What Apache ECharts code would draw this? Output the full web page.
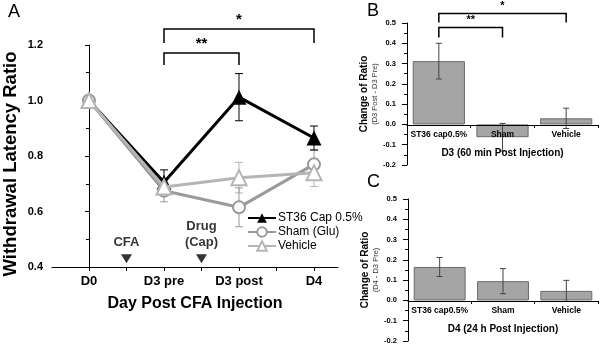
<!DOCTYPE html>
<html>
<head>
<meta charset="utf-8">
<script src="https://cdn.jsdelivr.net/npm/echarts@6/dist/echarts.min.js"></script>
<style>
  html, body { margin: 0; padding: 0; background: #fff; }
  #chart { width: 600px; height: 345px; }
</style>
</head>
<body>
<div id="chart"></div>
<script>
// panel A: withdrawal latency ratio
const dayLabels = ['D0', 'D3 pre', 'D3 post', 'D4']
const capMean = [1.0, 0.705, 1.012, 0.865]
const capErr = [0, 0.045, 0.085, 0.043]
const shamMean = [1.0, 0.675, 0.615, 0.77]
const shamErr = [0, 0.04, 0.07, 0.05]
const vehMean = [1.0, 0.688, 0.722, 0.74]
const vehErr = [0, 0.03, 0.055, 0.05]
const eventPos = [0.5, 1.5]
const eventLabels = ['CFA', 'Drug\n(Cap)']

// panels B and C: change of ratio
const barCats = ['ST36 cap0.5%', 'Sham', 'Vehicle']
const d3Change = [0.312, -0.063, 0.03]
const d3Err = [0.088, 0.068, 0.05]
const d4Change = [0.165, 0.095, 0.047]
const d4Err = [0.047, 0.062, 0.052]

const FONT = '"Liberation Sans", Arial, sans-serif'

function errRender(color, half) {
  return function (params, api) {
    const x = api.value(0)
    const lo = api.value(1)
    const hi = api.value(2)
    if (hi === lo) return null
    const p1 = api.coord([x, hi])
    const p2 = api.coord([x, lo])
    const s = { stroke: color, lineWidth: 1 }
    return {
      type: 'group',
      children: [
        { type: 'line', shape: { x1: p1[0], y1: p1[1], x2: p2[0], y2: p2[1] }, style: s },
        { type: 'line', shape: { x1: p1[0] - half, y1: p1[1], x2: p1[0] + half, y2: p1[1] }, style: s },
        { type: 'line', shape: { x1: p2[0] - half, y1: p2[1], x2: p2[0] + half, y2: p2[1] }, style: s }
      ]
    }
  }
}

function errData(xs, mean, err) {
  return mean.map((m, i) => [xs[i], m - err[i], m + err[i]])
}

function bracketRender(params, api) {
  const x1 = api.value(0), x2 = api.value(1), yTop = api.value(2), yEnd = api.value(3)
  const a = api.coord([x1, yEnd]), b = api.coord([x1, yTop])
  const c = api.coord([x2, yTop]), d = api.coord([x2, yEnd])
  const stars = params.context.stars[params.dataIndex]
  const fs = params.context.fs
  return {
    type: 'group',
    children: [
      { type: 'polyline', shape: { points: [a, b, c, d] }, style: { stroke: '#000', lineWidth: 1.5, fill: null } },
      { type: 'text', x: (b[0] + c[0]) / 2, y: b[1] - 2,
        style: { text: stars, fill: '#000', font: 'bold ' + fs + 'px ' + FONT, align: 'center', verticalAlign: 'bottom' } }
    ]
  }
}

const idx = dayLabels.map((d, i) => i)
const chart = echarts.init(document.getElementById('chart'))

const smallAxis = (gi, title, sub) => ({
  gridIndex: gi,
  type: 'value',
  min: -0.2,
  max: 0.5,
  interval: 0.1,
  name: '{a|' + title + '}\n{b|' + sub + '}',
  nameLocation: 'middle',
  nameGap: 27,
  nameTextStyle: {
    rich: {
      a: { fontFamily: FONT, fontWeight: 'bold', fontSize: 10, color: '#000', lineHeight: 11 },
      b: { fontFamily: FONT, fontSize: 7.5, color: '#333', lineHeight: 10 }
    }
  },
  axisLine: { show: true, lineStyle: { color: '#000', width: 1 } },
  axisTick: { show: true, length: 5, lineStyle: { color: '#000' } },
  minorTick: { show: true, splitNumber: 2, length: 3, lineStyle: { color: '#000' } },
  splitLine: { show: false },
  axisLabel: { fontFamily: FONT, fontWeight: 'bold', fontSize: 7.5, color: '#000', margin: 11,
    formatter: v => v.toFixed(1) }
})

// category axis sits on the zero line (two tenths above the grid bottom)
const catAxis = (gi, title) => ({
  gridIndex: gi,
  type: 'category',
  data: barCats,
  z: 10,
  offset: -40,
  name: title,
  nameLocation: 'middle',
  nameGap: 23,
  nameTextStyle: { fontFamily: FONT, fontWeight: 'bold', fontSize: 10, color: '#000' },
  axisLine: { onZero: false, lineStyle: { color: '#000', width: 1 } },
  axisTick: { show: true, length: 3, lineStyle: { color: '#000' } },
  axisLabel: { fontFamily: FONT, fontWeight: 'bold', fontSize: 8.5, color: '#000', margin: 5, interval: 0 }
})

const barSeries = (gi, vals) => ({
  type: 'bar',
  xAxisIndex: gi,
  yAxisIndex: gi,
  data: vals,
  barCategoryGap: '18%',
  itemStyle: { color: '#a5a5a5', borderColor: '#6a6a6a', borderWidth: 1 },
  z: 2
})

const barErr = (gi, vals, errs) => ({
  type: 'custom',
  xAxisIndex: gi,
  yAxisIndex: gi,
  renderItem: errRender('#444', 3),
  data: errData([0, 1, 2], vals, errs),
  z: 5
})

const option = {
  backgroundColor: '#fff',
  animation: false,
  textStyle: { fontFamily: FONT },
  grid: [
    { left: 52, top: 45, width: 286, height: 222 },
    { left: 407, top: 23, width: 191, height: 142 },
    { left: 408, top: 199, width: 190, height: 142 }
  ],
  legend: {
    left: 242,
    top: 207,
    orient: 'vertical',
    itemWidth: 28,
    itemHeight: 12,
    itemGap: 2,
    data: ['ST36 Cap 0.5%', 'Sham (Glu)', 'Vehicle'],
    textStyle: { fontFamily: FONT, fontSize: 12, color: '#000', padding: [0, 0, 0, -3] }
  },
  xAxis: [
    {
      gridIndex: 0,
      type: 'value',
      min: -0.493,
      max: 3.32,
      name: 'Day Post CFA Injection',
      nameLocation: 'middle',
      nameGap: 29,
      nameTextStyle: { fontFamily: FONT, fontWeight: 'bold', fontSize: 16, color: '#000' },
      axisLine: { lineStyle: { color: '#000', width: 1 } },
      axisTick: { show: true, length: 4, customValues: [0, 0.5, 1, 1.5, 2, 2.5, 3], lineStyle: { color: '#000' } },
      splitLine: { show: false },
      axisLabel: {
        customValues: idx,
        fontFamily: FONT, fontWeight: 'bold', fontSize: 13, color: '#000', margin: 8,
        formatter: v => dayLabels[Math.round(v)]
      }
    },
    catAxis(1, 'D3 (60 min Post Injection)'),
    catAxis(2, 'D4 (24 h Post Injection)')
  ],
  yAxis: [
    {
      gridIndex: 0,
      type: 'value',
      min: 0.4,
      max: 1.2,
      interval: 0.2,
      axisLine: { show: true, lineStyle: { color: '#000', width: 1 } },
      axisTick: { show: true, length: 4, lineStyle: { color: '#000' } },
      minorTick: { show: true, splitNumber: 2, length: 3, lineStyle: { color: '#000' } },
      splitLine: { show: false },
      axisLabel: { fontFamily: FONT, fontWeight: 'bold', fontSize: 11, color: '#000', margin: 9,
        formatter: v => v.toFixed(1) }
    },
    smallAxis(1, 'Change of Ratio', '(D3 Post - D3 Pre)'),
    smallAxis(2, 'Change of Ratio', '(D4 - D3 Pre)')
  ],
  series: [
    // error bars panel A
    { type: 'custom', renderItem: errRender('#b5b5b5', 4), data: errData(idx, vehMean, vehErr), z: 1 },
    { type: 'custom', renderItem: errRender('#999', 4), data: errData(idx, shamMean, shamErr), z: 1 },
    { type: 'custom', renderItem: errRender('#000', 4), data: errData(idx, capMean, capErr), z: 1 },
    {
      name: 'ST36 Cap 0.5%', type: 'line',
      data: capMean.map((v, i) => [i, v]),
      symbol: 'triangle', symbolSize: 15,
      color: '#000',
      lineStyle: { width: 3, color: '#000' },
      itemStyle: { color: '#000' },
      z: 3
    },
    {
      name: 'Sham (Glu)', type: 'line',
      data: shamMean.map((v, i) => [i, v]),
      symbol: 'emptyCircle', symbolSize: 12,
      color: '#9a9a9a',
      lineStyle: { width: 3, color: '#9a9a9a' },
      itemStyle: { color: '#9a9a9a', borderWidth: 1.5 },
      z: 4
    },
    {
      name: 'Vehicle', type: 'line',
      data: vehMean.map((v, i) => [i, v]),
      symbol: 'emptyTriangle', symbolSize: 15,
      color: '#b5b5b5',
      lineStyle: { width: 3, color: '#b5b5b5' },
      itemStyle: { color: '#b5b5b5', borderWidth: 1.5 },
      z: 5
    },
    // event arrows
    {
      type: 'scatter',
      data: eventPos.map((x, i) => ({ value: [x, 0.43], label: { formatter: eventLabels[i] } })),
      symbol: 'triangle', symbolRotate: 180, symbolSize: [11, 9],
      itemStyle: { color: '#000' },
      label: { show: true, position: 'top', distance: 4, fontFamily: FONT, fontWeight: 'bold', fontSize: 13, color: '#000', lineHeight: 16 },
      z: 6
    },
    // significance brackets A
    {
      type: 'custom',
      renderItem: (p, api) => { p.context.stars = ['**', '*']; p.context.fs = 15; return bracketRender(p, api) },
      data: [[1, 2, 1.171, 1.128], [1, 3, 1.258, 1.207]],
      z: 6
    },
    // panel B
    barSeries(1, d3Change),
    barErr(1, d3Change, d3Err),
    {
      type: 'custom', xAxisIndex: 1, yAxisIndex: 1,
      renderItem: (p, api) => { p.context.stars = ['**', '*']; p.context.fs = 11; return bracketRender(p, api) },
      data: [[0, 1, 0.478, 0.429], [0, 2, 0.547, 0.502]],
      z: 6
    },
    // panel C
    barSeries(2, d4Change),
    barErr(2, d4Change, d4Err)
  ],
  graphic: [
    { type: 'text', left: 8, top: 3, style: { text: 'A', font: '18px ' + FONT, fill: '#000' } },
    { type: 'text', left: 367, top: 2, style: { text: 'B', font: '18px ' + FONT, fill: '#000' } },
    { type: 'text', left: 367, top: 173, style: { text: 'C', font: '18px ' + FONT, fill: '#000' } },
    { type: 'text', x: 11, y: 164, rotation: Math.PI / 2,
      style: { text: 'Withdrawal Latency Ratio', font: 'bold 18.5px ' + FONT, fill: '#000', align: 'center', verticalAlign: 'middle' } }
  ]
}

chart.setOption(option)
</script>
</body>
</html>
